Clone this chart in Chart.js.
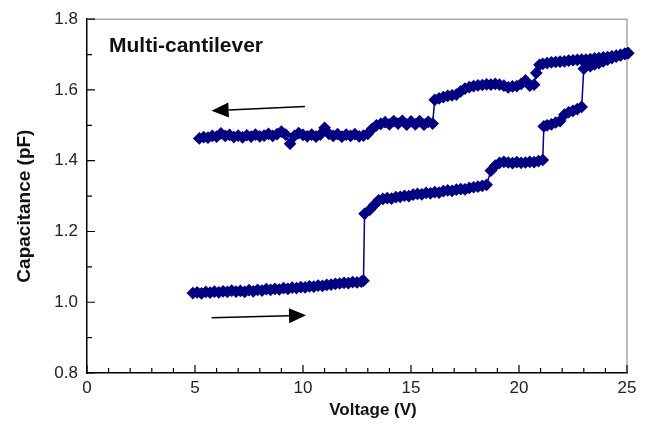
<!DOCTYPE html>
<html>
<head>
<meta charset="utf-8">
<script src="https://cdn.jsdelivr.net/npm/chart.js@4.4.1/dist/chart.umd.min.js"></script>
<style>
  html, body { margin: 0; padding: 0; background: #fff; }
  #chart { display: block; }
</style>
</head>
<body>
<canvas id="chart" width="653" height="430"></canvas>
<script>
const FONT = "'Liberation Sans', Arial, sans-serif";
const NAVY = "#000080";

// forward sweep (voltage up)
const fwdV = [4.9, 5.1, 5.3, 5.5, 5.7, 5.9, 6.1, 6.3, 6.5, 6.7, 6.9, 7.1, 7.3, 7.5, 7.7, 7.9,
  8.1, 8.3, 8.5, 8.7, 8.9, 9.1, 9.3, 9.5, 9.7, 9.9, 10.1, 10.3, 10.5, 10.7, 10.9, 11.1,
  11.3, 11.5, 11.7, 11.9, 12.1, 12.3, 12.5, 12.7, 12.8, 12.85, 13.1, 13.3, 13.5, 13.7,
  13.9, 14.1, 14.3, 14.5, 14.7, 14.9, 15.1, 15.3, 15.5, 15.7, 15.9, 16.1, 16.3, 16.5,
  16.7, 16.9, 17.1, 17.3, 17.5, 17.7, 17.9, 18.1, 18.3, 18.5, 18.7, 18.9, 19.1, 19.3,
  19.5, 19.7, 19.9, 20.1, 20.3, 20.5, 20.7, 20.9, 21.1, 21.15, 21.3, 21.5, 21.7, 21.9,
  22.1, 22.3, 22.5, 22.7, 22.9, 23.0, 23.3, 23.5, 23.7, 23.9, 24.1, 24.3, 24.5, 24.7,
  24.9, 25.05];
const fwdC = [1.026, 1.028, 1.025, 1.029, 1.027, 1.030, 1.028, 1.031, 1.029, 1.033, 1.030, 1.032, 1.029, 1.034, 1.031, 1.035,
  1.033, 1.037, 1.035, 1.038, 1.036, 1.040, 1.038, 1.041, 1.040, 1.043, 1.042, 1.045, 1.044, 1.047, 1.046, 1.049,
  1.050, 1.052, 1.053, 1.055, 1.054, 1.057, 1.056, 1.058, 1.061, 1.250, 1.262, 1.275, 1.288, 1.292,
  1.294, 1.293, 1.297, 1.298, 1.301, 1.300, 1.304, 1.306, 1.305, 1.309, 1.308, 1.311, 1.310, 1.314,
  1.316, 1.315, 1.318, 1.320, 1.319, 1.323, 1.325, 1.327, 1.329, 1.332, 1.372, 1.386, 1.394, 1.397,
  1.395, 1.393, 1.396, 1.394, 1.395, 1.397, 1.396, 1.399, 1.402, 1.497, 1.500, 1.503, 1.508, 1.512,
  1.530, 1.537, 1.541, 1.546, 1.552, 1.660, 1.667, 1.672, 1.676, 1.681, 1.686, 1.690, 1.694, 1.698,
  1.702, 1.704];

// reverse sweep (voltage down)
const revV = [25.05, 24.9, 24.7, 24.5, 24.3, 24.1, 23.9, 23.7, 23.5, 23.3, 23.1, 22.9, 22.7, 22.5,
  22.3, 22.1, 21.9, 21.7, 21.5, 21.3, 21.1, 20.95, 20.8, 20.7, 20.5, 20.3, 20.1, 19.9, 19.7,
  19.5, 19.3, 19.1, 18.9, 18.7, 18.5, 18.3, 18.1, 17.9, 17.7, 17.5, 17.3, 17.1, 16.9, 16.7,
  16.5, 16.3, 16.1, 16.0, 15.8, 15.6, 15.4, 15.2, 15.0, 14.8, 14.6, 14.4, 14.2, 14.0, 13.8,
  13.6, 13.4, 13.2, 13.0, 12.8, 12.6, 12.4, 12.2, 12.0, 11.8, 11.6, 11.4, 11.2, 11.0, 10.8,
  10.6, 10.4, 10.2, 10.0, 9.8, 9.6, 9.4, 9.2, 9.0, 8.8, 8.6, 8.4, 8.2, 8.0, 7.8, 7.6, 7.4,
  7.2, 7.0, 6.8, 6.6, 6.4, 6.2, 6.0, 5.8, 5.6, 5.4, 5.2];
const revC = [1.704, 1.702, 1.699, 1.697, 1.695, 1.693, 1.692, 1.690, 1.689, 1.687, 1.686, 1.686, 1.685, 1.684,
  1.683, 1.681, 1.680, 1.679, 1.678, 1.676, 1.674, 1.671, 1.648, 1.615, 1.612, 1.627, 1.617, 1.611, 1.610,
  1.607, 1.612, 1.615, 1.617, 1.615, 1.616, 1.614, 1.613, 1.611, 1.608, 1.604, 1.596, 1.587, 1.585, 1.583,
  1.580, 1.576, 1.572, 1.505, 1.510, 1.502, 1.512, 1.503, 1.511, 1.502, 1.513, 1.505, 1.512, 1.503, 1.509,
  1.504, 1.500, 1.490, 1.476, 1.471, 1.469, 1.475, 1.470, 1.474, 1.468, 1.475, 1.470, 1.476, 1.493, 1.474,
  1.468, 1.474, 1.469, 1.473, 1.478, 1.470, 1.448, 1.474, 1.482, 1.475, 1.470, 1.476, 1.471, 1.469, 1.474, 1.468, 1.472,
  1.466, 1.471, 1.467, 1.473, 1.470, 1.477, 1.468, 1.470, 1.465, 1.467, 1.463];

// sweep direction arrows, [tail, tip] in data units
const arrowDown = [[10.09, 1.553], [5.77, 1.541]];
const arrowUp = [[5.77, 0.956], [10.14, 0.963]];

const xTitle = "Voltage (V)";
const yTitle = "Capacitance (pF)";
const label = "Multi-cantilever";

const pts = (vs, cs) => vs.map((v, i) => ({ x: v, y: cs[i] }));

const series = {
  borderColor: NAVY,
  backgroundColor: NAVY,
  borderWidth: 1.5,
  pointStyle: "rectRot",
  pointRadius: 5.3,
  pointBorderWidth: 1.5,
  showLine: true,
  tension: 0,
  clip: false,
};

function drawArrow(ctx, x, y, arr) {
  const x0 = x.getPixelForValue(arr[0][0]), y0 = y.getPixelForValue(arr[0][1]);
  const x1 = x.getPixelForValue(arr[1][0]), y1 = y.getPixelForValue(arr[1][1]);
  const ang = Math.atan2(y1 - y0, x1 - x0);
  const hl = 17, hw = 7.5;
  const bx = x1 - Math.cos(ang) * hl, by = y1 - Math.sin(ang) * hl;
  ctx.strokeStyle = "#000";
  ctx.lineWidth = 1.5;
  ctx.beginPath();
  ctx.moveTo(x0, y0);
  ctx.lineTo(bx, by);
  ctx.stroke();
  ctx.fillStyle = "#000";
  ctx.beginPath();
  ctx.moveTo(x1, y1);
  ctx.lineTo(bx - Math.sin(ang) * hw, by + Math.cos(ang) * hw);
  ctx.lineTo(bx + Math.sin(ang) * hw, by - Math.cos(ang) * hw);
  ctx.closePath();
  ctx.fill();
}

const decor = {
  id: "decor",
  beforeDatasetsDraw(chart) {
    const { ctx, chartArea: a, scales: { x, y } } = chart;
    ctx.save();
    // grey frame on top and right
    ctx.strokeStyle = "#a8a8a8";
    ctx.lineWidth = 1.5;
    ctx.beginPath();
    ctx.moveTo(a.left, a.top);
    ctx.lineTo(a.right, a.top);
    ctx.lineTo(a.right, a.bottom);
    ctx.stroke();
    // inward tick marks
    ctx.strokeStyle = "#000";
    ctx.lineWidth = 1.2;
    ctx.beginPath();
    for (let v = 0; v <= 25; v++) {
      const px = x.getPixelForValue(v);
      const len = v % 5 === 0 ? 8 : 5;
      ctx.moveTo(px, a.bottom);
      ctx.lineTo(px, a.bottom - len);
    }
    for (let i = 0; i <= 10; i++) {
      const py = y.getPixelForValue(0.8 + i * 0.1);
      const len = i % 2 === 0 ? 8 : 5;
      ctx.moveTo(a.left, py);
      ctx.lineTo(a.left + len, py);
    }
    ctx.stroke();
    ctx.restore();
  },
  afterDatasetsDraw(chart) {
    const { ctx, chartArea: a, scales: { x, y } } = chart;
    ctx.save();
    drawArrow(ctx, x, y, arrowDown);
    drawArrow(ctx, x, y, arrowUp);

    ctx.fillStyle = "#111";
    ctx.font = "bold 21px " + FONT;
    ctx.textAlign = "left";
    ctx.textBaseline = "alphabetic";
    ctx.fillText(label, a.left + 22, a.top + 33);

    ctx.font = "bold 17px " + FONT;
    ctx.textAlign = "center";
    ctx.fillText(xTitle, (a.left + a.right) / 2 + 16, a.bottom + 42);

    ctx.translate(a.left - 62, (a.top + a.bottom) / 2 + 10);
    ctx.rotate(-Math.PI / 2);
    ctx.font = "bold 19px " + FONT;
    ctx.textBaseline = "middle";
    ctx.fillText(yTitle, 0, 0);
    ctx.restore();
  },
};

new Chart(document.getElementById("chart"), {
  type: "scatter",
  data: {
    datasets: [
      { ...series, data: pts(fwdV, fwdC) },
      { ...series, data: pts(revV, revC) },
    ],
  },
  options: {
    responsive: false,
    animation: false,
    layout: { padding: { top: 17, right: 26, bottom: 0, left: 0 } },
    plugins: { legend: { display: false }, tooltip: { enabled: false } },
    scales: {
      x: {
        type: "linear",
        min: 0,
        max: 25,
        border: { color: "#000", width: 1.5 },
        grid: { display: false, drawTicks: false },
        ticks: { stepSize: 5, padding: 5, color: "#222", font: { family: FONT, size: 17 } },
        afterFit(s) { s.height = 57; },
      },
      y: {
        min: 0.8,
        max: 1.8,
        border: { color: "#000", width: 1.5 },
        grid: { display: false, drawTicks: false },
        ticks: {
          stepSize: 0.2,
          padding: 9,
          color: "#222",
          font: { family: FONT, size: 17 },
          callback: (v) => v.toFixed(1),
        },
        afterFit(s) { s.width = 87; },
      },
    },
  },
  plugins: [decor],
});
</script>
</body>
</html>
